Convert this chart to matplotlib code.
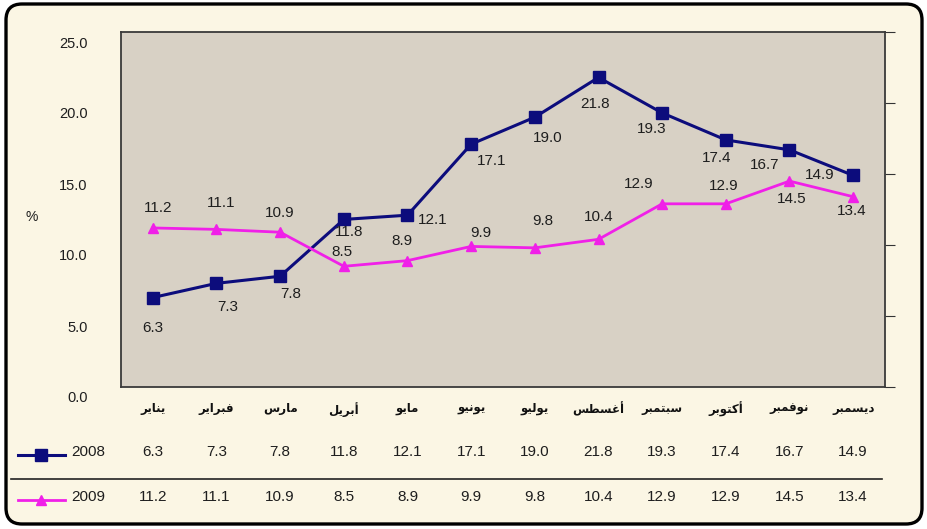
import matplotlib
matplotlib.use("Agg")
import matplotlib.pyplot as plt
import matplotlib.transforms as mtransforms
from matplotlib.patches import FancyBboxPatch
from matplotlib.lines import Line2D
import numpy as np

months = ["يناير", "فبراير", "مارس", "أبريل", "مايو", "يونيو",
          "يوليو", "أغسطس", "سبتمبر", "أكتوبر", "نوفمبر", "ديسمبر"]
series_names = ["2008", "2009"]
values_2008 = [6.3, 7.3, 7.8, 11.8, 12.1, 17.1, 19.0, 21.8, 19.3, 17.4, 16.7, 14.9]
values_2009 = [11.2, 11.1, 10.9, 8.5, 8.9, 9.9, 9.8, 10.4, 12.9, 12.9, 14.5, 13.4]
y_ticks = [0, 5, 10, 15, 20, 25]

# label offsets (pixels, image orientation: +y is down)
off_2008 = [(0, 30), (11, 24), (11, 18), (5, 13), (25, 5), (20, 17),
            (13, 21), (-3, 27), (-10, 16), (-9, 18), (-25, 15), (-33, 0)]
off_2009 = [(5, -20), (5, -26), (0, -19), (-2, -14), (-6, -20), (10, -13),
            (8, -27), (0, -22), (-23, -20), (-2, -18), (2, 18), (-1, 14)]

NAVY = "#0c0c7c"
MAGENTA = "#f020e8"
CREAM = "#fbf6e4"
PLOTBG = "#d8d1c5"
TXT = "#1e1e1e"

# --- minimal Arabic shaping (matplotlib has no bidi / joining) ---
_forms = {  # isolated form, dual-joining?
    "ا": (0xFE8D, False), "أ": (0xFE83, False), "د": (0xFEA9, False),
    "ر": (0xFEAD, False), "و": (0xFEED, False),
    "ب": (0xFE8F, True), "ت": (0xFE95, True), "س": (0xFEB1, True),
    "ط": (0xFEC1, True), "غ": (0xFECD, True), "ف": (0xFED1, True),
    "ك": (0xFED9, True), "ل": (0xFEDD, True), "م": (0xFEE1, True),
    "ن": (0xFEE5, True), "ي": (0xFEF1, True),
}


def shape_ar(s):
    out = []
    for i, ch in enumerate(s):
        if ch not in _forms:
            out.append(ch)
            continue
        base, dual = _forms[ch]
        prev = s[i - 1] if i > 0 else None
        nxt = s[i + 1] if i + 1 < len(s) else None
        cp = prev in _forms and _forms[prev][1]
        cn = dual and nxt in _forms
        if cp and cn:
            code = base + 3
        elif cp:
            code = base + 1
        elif cn:
            code = base + 2
        else:
            code = base
        out.append(chr(code))
    return "".join(reversed(out))


plt.rcParams["font.family"] = ["Liberation Sans", "DejaVu Sans"]

W, H = 928, 529
fig = plt.figure(figsize=(W / 100, H / 100), dpi=100, facecolor="white")

# overlay axes in pixel coordinates for frame + table
bg = fig.add_axes([0, 0, 1, 1], zorder=0)
bg.set_xlim(0, W)
bg.set_ylim(H, 0)
bg.axis("off")
bg.add_patch(FancyBboxPatch((6, 4), W - 12, H - 9,
                            boxstyle="round,pad=0,rounding_size=16",
                            facecolor=CREAM, edgecolor="black", linewidth=2.4))

ax = fig.add_axes([121 / W, 1 - 387 / H, (885 - 121) / W, (387 - 32) / H], zorder=1)
ax.set_facecolor(PLOTBG)
x = np.arange(len(months))

ax.plot(x, values_2008, color=NAVY, lw=2.2, marker="s", ms=9,
        markeredgecolor=NAVY, zorder=3)
ax.plot(x, values_2009, color=MAGENTA, lw=2.0, marker="^", ms=7,
        markeredgecolor=MAGENTA, zorder=3)

for xi, v, (dx, dy) in zip(x, values_2008, off_2008):
    ax.annotate(f"{v:.1f}", (xi, v), xytext=(dx * 0.72, -dy * 0.72),
                textcoords="offset points", ha="center", va="center",
                fontsize=11, color=TXT, zorder=4)
for xi, v, (dx, dy) in zip(x, values_2009, off_2009):
    ax.annotate(f"{v:.1f}", (xi, v), xytext=(dx * 0.72, -dy * 0.72),
                textcoords="offset points", ha="center", va="center",
                fontsize=11, color=TXT, zorder=4)

ax.set_xlim(-0.5, len(months) - 0.5)
ax.set_ylim(0, 25)
ax.set_xticks(x)
ax.set_xticklabels([shape_ar(m) for m in months], fontsize=8.5,
                   family=["DejaVu Sans"], fontweight="bold", color="#111111")
ax.tick_params(axis="x", length=0, pad=11)
ax.set_yticks(y_ticks)
ax.set_yticklabels([f"{t:.1f}" for t in y_ticks], fontsize=10.5, color=TXT)
ax.tick_params(axis="y", left=False, right=True, labelleft=True,
               direction="out", length=7, pad=17, color="#333333")
shift = mtransforms.ScaledTranslation(0, -10 / 100, fig.dpi_scale_trans)
for lab in ax.get_yticklabels():
    lab.set_transform(lab.get_transform() + shift)
for sp in ax.spines.values():
    sp.set_color("#3a3a3a")
    sp.set_linewidth(1.3)

bg.text(32, 217, "%", fontsize=10, color=TXT, ha="center", va="center")

# data table under the chart
tbl = mtransforms.blended_transform_factory(ax.transData, bg.transData)
rows = [(values_2008, 452), (values_2009, 497)]
for vals, yrow in rows:
    for xi, v in zip(x, vals):
        bg.text(xi, yrow, f"{v:.1f}", transform=tbl, fontsize=11,
                color=TXT, ha="center", va="center", clip_on=False)

bg.add_line(Line2D([11, 882], [479, 479], color="#222222", lw=1.2))
bg.add_line(Line2D([18, 41.5, 65], [455, 455, 455], color=NAVY, lw=2.2,
                   marker="s", ms=9, markevery=[1], markeredgecolor=NAVY))
bg.add_line(Line2D([18, 41.5, 65], [500, 500, 500], color=MAGENTA, lw=2.0,
                   marker="^", ms=7, markevery=[1], markeredgecolor=MAGENTA))
bg.text(71, 452, series_names[0], fontsize=11, color=TXT, va="center")
bg.text(71, 497, series_names[1], fontsize=11, color=TXT, va="center")

fig.savefig("out.png", dpi=100, facecolor="white")
